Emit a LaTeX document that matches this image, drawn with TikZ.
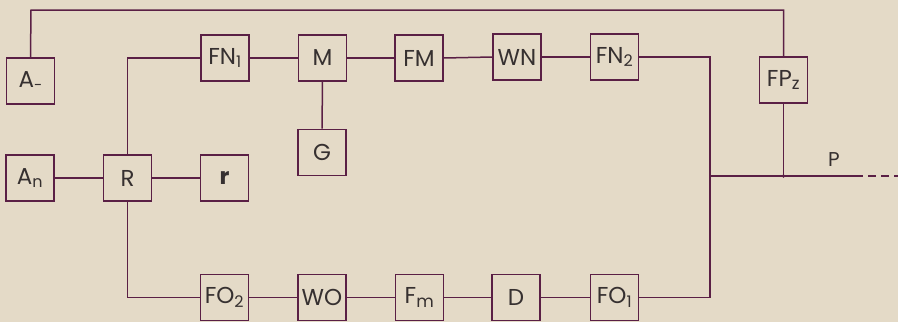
\documentclass[tikz,border=0pt]{standalone}
\usepackage{fontspec}
\setmainfont{Poppins}
\begin{document}
\begin{tikzpicture}[x=1pt,y=-1pt,
  blk/.style={draw=lc, line width=1.6pt, minimum width=48pt, minimum height=46pt, inner sep=0pt, text=tc, font=\fontsize{23}{25}\selectfont},
  wire/.style={draw=lc, line width=1.5pt}]
\definecolor{lc}{HTML}{5A1F45}
\definecolor{tc}{HTML}{363030}
\definecolor{bg}{HTML}{E4DAC7}
\fill[bg] (0,0) rectangle (898,322);
\useasboundingbox (0,0) rectangle (898,322);
% nodes
\node[blk] (Atil) at (30.5,81) {A\raisebox{-3pt}{\fontsize{15}{15}\selectfont -}};
\node[blk] (An) at (30,178) {A\textsubscript{\fontsize{16}{16}\selectfont n}};
\node[blk] (R) at (127.5,178) {R};
\node[blk] (r) at (224.5,178) {\textbf{r}};
\node[blk] (FN1) at (225,58) {FN\textsubscript{\fontsize{16}{16}\selectfont 1}};
\node[blk] (M) at (322.5,58) {M};
\node[blk] (G) at (322,152.5) {G};
\node[blk] (FM) at (419,58) {FM};
\node[blk] (WN) at (517,57) {WN};
\node[blk] (FN2) at (614.5,57) {FN\textsubscript{\fontsize{16}{16}\selectfont 2}};
\node[blk] (FP) at (783.5,80) {FP\textsubscript{\fontsize{17}{17}\selectfont z}};
\node[blk] (FO2) at (224.5,297.5) {FO\textsubscript{\fontsize{16}{16}\selectfont 2}};
\node[blk] (WO) at (322,297.5) {WO};
\node[blk] (Fm) at (419.5,297.5) {F\textsubscript{\fontsize{17}{17}\selectfont m}};
\node[blk] (D) at (516,297.5) {D};
\node[blk] (FO1) at (614.5,297.5) {FO\textsubscript{\fontsize{16}{16}\selectfont 1}};
\node[text=tc, font=\fontsize{20}{22}\selectfont] (Plab) at (834,160) {P};
% coordinates
\coordinate (tl) at (31,10);
\coordinate (tr) at (783.5,10);
\coordinate (jn) at (783.5,176);
\coordinate (bend) at (710,176);
\coordinate (pend) at (855,176);
\coordinate (pfar) at (898,176);
% connectors
\draw[wire] (Atil.north) -- (tl) -- (tr) -- (FP.north);
\draw[wire] (FP.south) -- (jn);
\draw[wire] (FN2.east) -| (bend) |- (FO1.east);
\draw[wire] (bend) -- (pend);
\draw[wire, dash pattern=on 8pt off 5pt] (pend) -- (pfar);
\fill[lc] (jn) circle (1.8pt);
\draw[wire] (An) -- (R);
\draw[wire] (R) -- (r);
\draw[wire] (R.north) |- (FN1.west);
\draw[wire] (R.south) |- (FO2.west);
\draw[wire] (FN1) -- (M);
\draw[wire] (M) -- (FM);
\draw[wire] (FM.east) -- (WN.west);
\draw[wire] (WN) -- (FN2);
\draw[wire] (M) -- (G);
\draw[wire] (FO2) -- (WO);
\draw[wire] (WO) -- (Fm);
\draw[wire] (Fm) -- (D);
\draw[wire] (D) -- (FO1);
\end{tikzpicture}
\end{document}
